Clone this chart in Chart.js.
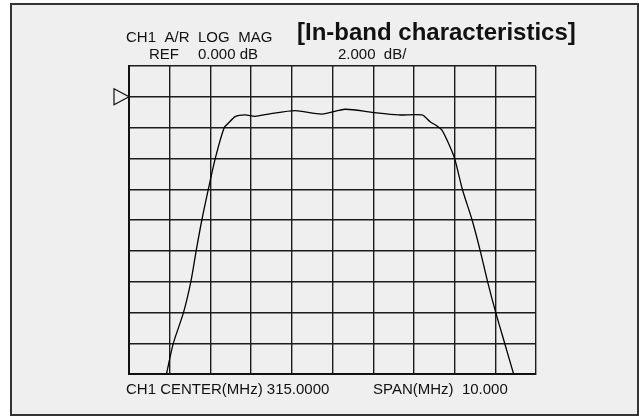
<!DOCTYPE html>
<html>
<head>
<meta charset="utf-8">
<script src="https://cdn.jsdelivr.net/npm/chart.js@4.4.1/dist/chart.umd.min.js"></script>
<style>
    html, body { margin: 0; padding: 0; background: #ffffff; }
    canvas { display: block; }
</style>
</head>
<body>
<canvas id="bandChart" width="639" height="416"></canvas>
<script>
// trace (MHz / dB)
const freqMHz = [310.92, 311.09, 311.34, 311.52, 311.65, 311.79, 311.95, 312.12, 312.34, 312.44,
    312.61, 312.85, 313.10, 313.43, 314.08, 314.74, 315.31, 315.97, 316.62, 317.20,
    317.40, 317.57, 317.69, 317.85, 318.00, 318.19, 318.43, 318.63, 318.81, 319.01,
    319.23, 319.45];
const magDb = [-18, -16, -14, -12, -10, -8, -6, -4, -2, -1.72,
    -1.29, -1.18, -1.27, -1.12, -0.90, -1.12, -0.81, -1.01, -1.18, -1.18,
    -1.62, -1.90, -2.16, -3.02, -4.0, -6.0, -8.0, -10.0, -12.0, -14.0,
    -16.0, -18.0];

const centerMHz = 315;
const spanMHz = 10;
const refDb = 0;
const dbPerDiv = 2;

const titleText = '[In-band characteristics]';
const headerWords = ['CH1', 'A/R', 'LOG', 'MAG'];
const refLabel = 'REF';
const refValue = '0.000 dB';
const scaleLabel = '2.000  dB/';
const centerLabel = 'CH1 CENTER(MHz) 315.0000';
const spanLabel = 'SPAN(MHz)  10.000';

const points = freqMHz.map((f, i) => {
    return {x: f, y: magDb[i]};
});

const screenPlugin = {
    id: 'screen',
    beforeDraw: (chart) => {
        const ctx = chart.ctx;
        ctx.save();
        ctx.fillStyle = '#ffffff';
        ctx.fillRect(0, 0, chart.width, chart.height);
        ctx.fillStyle = '#efefef';
        ctx.fillRect(11, 4, 627, 411);
        ctx.strokeStyle = '#333333';
        ctx.lineWidth = 2;
        ctx.strokeRect(11, 4, 627, 411);
        ctx.restore();
    },
    afterDraw: (chart) => {
        const ctx = chart.ctx;
        const yRef = chart.scales.y.getPixelForValue(refDb);
        const left = chart.chartArea.left;
        ctx.save();
        ctx.fillStyle = '#111111';
        ctx.textBaseline = 'alphabetic';

        ctx.font = 'bold 24px "Liberation Sans", Arial, sans-serif';
        ctx.fillText(titleText, 297, 40);

        ctx.font = '15px "Liberation Sans", Arial, sans-serif';
        let x = 126;
        headerWords.forEach((w) => {
            ctx.fillText(w, x, 42);
            x += ctx.measureText(w).width + 8.5;
        });
        ctx.fillText(refLabel, 149, 59);
        ctx.fillText(refValue, 198, 59);
        ctx.fillText(scaleLabel, 338, 59);
        ctx.fillText(centerLabel, 126, 394);
        ctx.fillText(spanLabel, 373, 394);

        // reference marker
        ctx.strokeStyle = '#111111';
        ctx.lineWidth = 1.2;
        ctx.beginPath();
        ctx.moveTo(left - 15, yRef - 8);
        ctx.lineTo(left, yRef);
        ctx.lineTo(left - 15, yRef + 8);
        ctx.closePath();
        ctx.stroke();
        ctx.restore();
    }
};

const gridStyle = {
    color: '#1c1c1c',
    lineWidth: 1.4,
    drawTicks: false
};

new Chart(document.getElementById('bandChart'), {
    type: 'line',
    data: {
        datasets: [{
            data: points,
            borderColor: '#000000',
            borderWidth: 1.3,
            pointRadius: 0,
            tension: 0.25,
            fill: false
        }]
    },
    options: {
        responsive: false,
        animation: false,
        events: [],
        layout: {
            padding: {left: 129, top: 66, right: 103, bottom: 42}
        },
        plugins: {
            legend: {display: false},
            tooltip: {enabled: false}
        },
        scales: {
            x: {
                type: 'linear',
                min: centerMHz - spanMHz / 2,
                max: centerMHz + spanMHz / 2,
                ticks: {display: false, stepSize: spanMHz / 10},
                grid: gridStyle,
                border: {display: true, color: '#111111', width: 2}
            },
            y: {
                type: 'linear',
                min: refDb - 9 * dbPerDiv,
                max: refDb + dbPerDiv,
                ticks: {display: false, stepSize: dbPerDiv},
                grid: gridStyle,
                border: {display: true, color: '#111111', width: 2}
            }
        }
    },
    plugins: [screenPlugin]
});
</script>
</body>
</html>
